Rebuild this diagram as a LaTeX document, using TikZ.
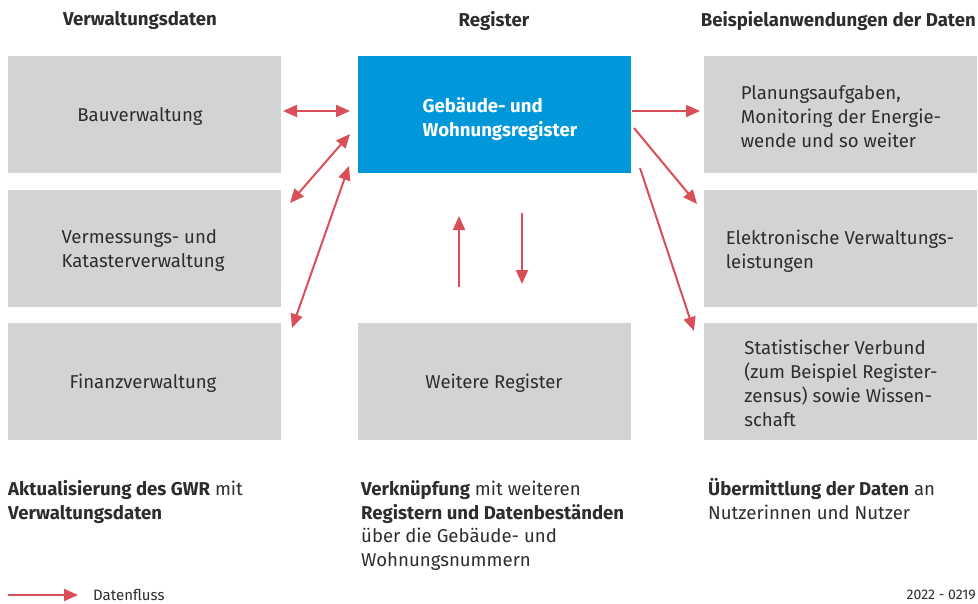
\documentclass[tikz,border=0pt]{standalone}
\usepackage{fontspec}
\setmainfont{Fira Sans}
\usetikzlibrary{arrows.meta}
\definecolor{boxgray}{RGB}{210,211,213}
\definecolor{gwrblue}{RGB}{0,152,218}
\definecolor{flowred}{RGB}{217,79,87}
\definecolor{txt}{RGB}{45,45,45}
\begin{document}
\begin{tikzpicture}[x=1pt,y=-1pt,
  box/.style={fill=boxgray,draw=none,minimum width=273pt,minimum height=117pt,inner sep=0pt,anchor=north west},
  boxtext/.style={text=txt,align=left,font=\fontsize{18.6}{24}\selectfont,inner sep=0pt},
  head/.style={text=txt,font=\fontsize{18.6}{24}\selectfont\bfseries,inner sep=0pt},
  foot/.style={text=txt,align=left,font=\fontsize{18.6}{23.5}\selectfont,inner sep=0pt,anchor=base west},
  flow/.style={draw=flowred,line width=2pt,-{Triangle[length=14pt,width=12pt]}},
  flow2/.style={draw=flowred,line width=2pt,{Triangle[length=14pt,width=12pt]}-{Triangle[length=14pt,width=12pt]}}]
\useasboundingbox (0,0) rectangle (978,603);
% headers
\node[head] (h1) at (140,21) {Verwaltungsdaten};
\node[head] (h2) at (494,21) {Register};
\node[head,anchor=east] (h3) at (976,21) {Beispielanwendungen der Daten};
% left column
\node[box] (bau) at (8,56) {};
\node[box] (verm) at (8,190) {};
\node[box] (fin) at (8,323) {};
\node[boxtext] at (140,117) {Bauverwaltung};
\node[boxtext] at (143,251) {Vermessungs- und\\Katasterverwaltung};
\node[boxtext] at (143,383) {Finanzverwaltung};
% middle column
\node[box,fill=gwrblue] (gwr) at (358,56) {};
\node[box] (weit) at (358,323) {};
\node[boxtext,text=white,font=\fontsize{18.6}{24}\selectfont\bfseries] at (500,119) {Gebäude- und\\Wohnungsregister};
\node[boxtext] at (494,383) {Weitere Register};
% right column
\node[box] (plan) at (704,56) {};
\node[box] (elek) at (704,190) {};
\node[box] (stat) at (704,323) {};
\node[boxtext] at (841,117) {Planungsaufgaben,\\Monitoring der Energie-\\wende und so weiter};
\node[boxtext] at (840,251) {Elektronische Verwaltungs-\\leistungen};
\node[boxtext] at (841,383) {Statistischer Verbund\\(zum Beispiel Register-\\zensus) sowie Wissen-\\schaft};
% arrow endpoints
\coordinate (a1s) at (283,111); \coordinate (a1e) at (350,111);
\coordinate (a2s) at (290,203); \coordinate (a2e) at (350,134);
\coordinate (a3s) at (292,328); \coordinate (a3e) at (349,166);
\coordinate (b1s) at (632,111); \coordinate (b1e) at (700,111);
\coordinate (b2s) at (634,128); \coordinate (b2e) at (697,204);
\coordinate (b3s) at (640,168); \coordinate (b3e) at (694,331);
\coordinate (c1s) at (459,287); \coordinate (c1e) at (459,216);
\coordinate (c2s) at (522,213); \coordinate (c2e) at (522,284);
\draw[flow2] (a1s) -- (a1e);
\draw[flow2] (a2s) -- (a2e);
\draw[flow2] (a3s) -- (a3e);
\draw[flow] (b1s) -- (b1e);
\draw[flow] (b2s) -- (b2e);
\draw[flow] (b3s) -- (b3e);
\draw[flow] (c1s) -- (c1e);
\draw[flow] (c2s) -- (c2e);
% footers
\node[foot] (f1) at (8,519) {\textbf{Aktualisierung des GWR} mit\\\textbf{Verwaltungsdaten}};
\node[foot] (f2) at (361,566) {\textbf{Verknüpfung} mit weiteren\\\textbf{Registern und Datenbeständen}\\über die Gebäude- und\\Wohnungsnummern};
\node[foot] (f3) at (708,519) {\textbf{Übermittlung der Daten} an\\Nutzerinnen und Nutzer};
% legend
\coordinate (ls) at (8,595); \coordinate (le) at (78,595);
\draw[flow] (ls) -- (le);
\node[text=txt,font=\fontsize{15}{17}\selectfont,anchor=west,inner sep=0pt] (lt) at (93,595) {Datenfluss};
\node[text=txt,font=\fontsize{14}{16}\selectfont,anchor=east,inner sep=0pt] (code) at (976,595) {2022 - 0219};
\end{tikzpicture}
\end{document}
